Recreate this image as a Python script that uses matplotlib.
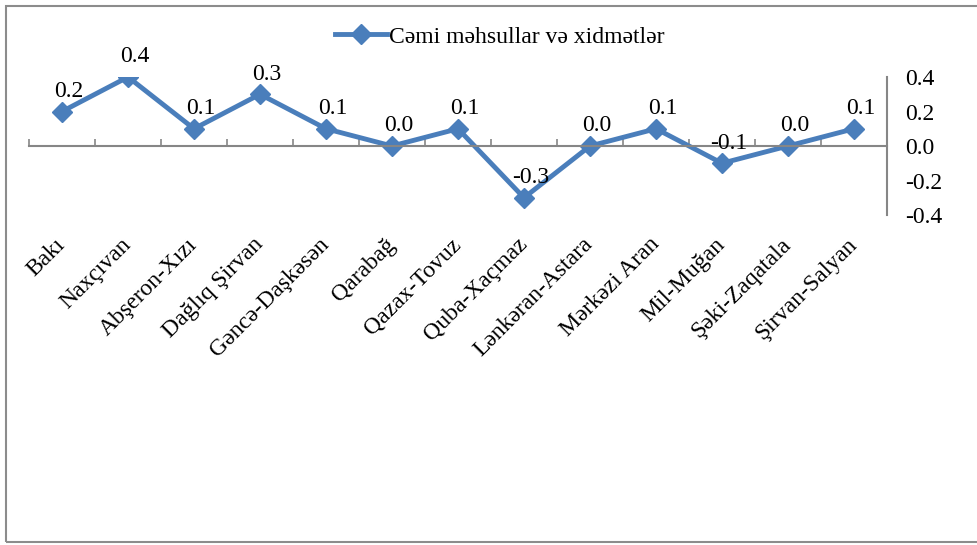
import matplotlib.pyplot as plt
import numpy as np
from matplotlib.patches import Rectangle

regions = ['Bakı', 'Naxçıvan', 'Abşeron-Xızı', 'Dağlıq Şirvan', 'Gəncə-Daşkəsən',
           'Qarabağ', 'Qazax-Tovuz', 'Quba-Xaçmaz', 'Lənkəran-Astara', 'Mərkəzi Aran',
           'Mil-Muğan', 'Şəki-Zaqatala', 'Şirvan-Salyan']
values = [0.2, 0.4, 0.1, 0.3, 0.1, 0.0, 0.1, -0.3, 0.0, 0.1, -0.1, 0.0, 0.1]
series_name = 'Cəmi məhsullar və xidmətlər'
y_ticks = [-0.4, -0.2, 0.0, 0.2, 0.4]

plt.rcParams['font.family'] = ['Liberation Serif', 'DejaVu Serif']
blue = '#4A7EBB'
grey = '#868686'
fs = 17

fig = plt.figure(figsize=(9.77, 5.45), dpi=100)
ax = fig.add_axes([29 / 977, 1 - 215 / 545, (887 - 29) / 977, (215 - 77) / 545])

x = np.arange(len(regions))
ax.plot(x, values, color=blue, lw=3.5, marker='D', ms=10.5, label=series_name)
for i, v in zip(x, values):
    ax.annotate(f'{v:.1f}', (i, v), xytext=(5, 7), textcoords='offset points',
                ha='center', va='bottom', fontsize=fs)

ax.set_xlim(-0.5, len(regions) - 0.5)
ax.set_ylim(-0.4, 0.4)

# spines
ax.spines['top'].set_visible(False)
ax.spines['left'].set_visible(False)
ax.spines['right'].set_color(grey)
ax.spines['right'].set_linewidth(1.5)
ax.spines['bottom'].set_position(('data', 0))
ax.spines['bottom'].set_color(grey)
ax.spines['bottom'].set_linewidth(1.5)

# x ticks between categories, pointing up
ax.set_xticks(np.arange(-0.5, len(regions)))
ax.tick_params(axis='x', direction='in', length=5, width=1.2, color=grey, labelbottom=False)

# y axis on the right
ax.yaxis.tick_right()
ax.set_yticks(y_ticks)
ax.set_yticklabels([f'{t:.1f}' for t in y_ticks])
ax.tick_params(axis='y', length=0, pad=13, labelsize=fs)

# category labels below the plot
sec = ax.secondary_xaxis(0.0)
sec.set_xticks(x)
sec.set_xticklabels(regions)
sec.spines['bottom'].set_visible(False)
sec.tick_params(length=0, pad=19, labelsize=fs)
for lab in sec.get_xticklabels():
    lab.set_rotation(45)
    lab.set_ha('right')
    lab.set_va('center')
    lab.set_rotation_mode('anchor')

fig.legend(loc='center', bbox_to_anchor=(500 / 977, 1 - 37 / 545), frameon=False,
           fontsize=fs, handlelength=2.2, handletextpad=0.1)

fig.patches.append(Rectangle((6 / 977, 3 / 545), 1.2, (539 - 3) / 545, transform=fig.transFigure,
                             fill=False, edgecolor='#8c8c8c', lw=1.5))

fig.savefig('out.png', dpi=100)
